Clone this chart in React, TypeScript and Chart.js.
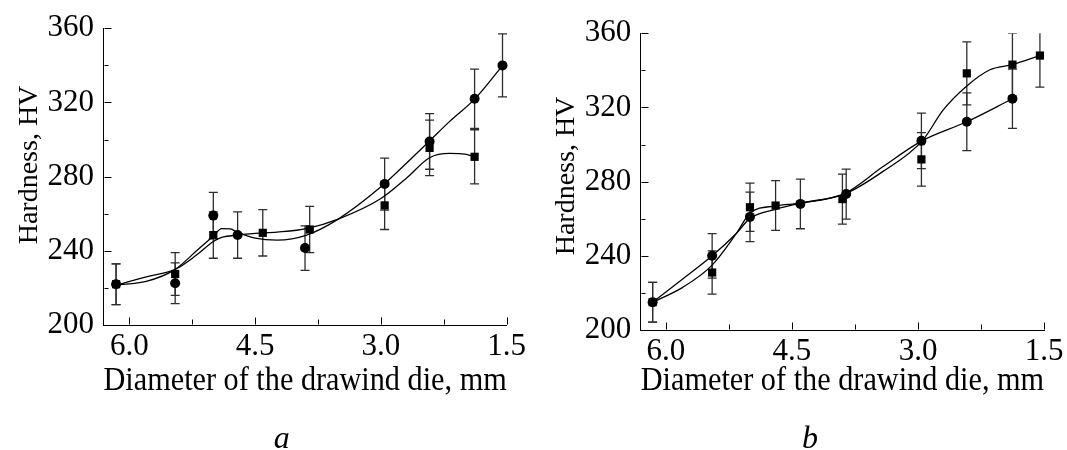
import React, { useEffect, useRef } from "react";
import { Chart, registerables } from "chart.js";
Chart.register(...registerables);

// ---------- Panel a data ----------
const aCircleX = [6.16, 5.455, 5.0, 4.71, 3.906, 2.956, 2.42, 1.883, 1.55];
const aCircleY = [222, 222.5, 259, 248.5, 241.5, 276, 299, 322, 340];
const aCircleErr = [11, 11, 12.5, 12.5, 12, 14, 15, 16, 17];
const aSquareX = [6.16, 5.455, 5.0, 4.41, 3.85, 2.956, 2.42, 1.883];
const aSquareY = [222, 227.5, 248.5, 249.7, 251.5, 264.5, 295.5, 290.7];
const aSquareErr = [11, 11.5, 12.5, 12.5, 12.5, 13, 15, 14.6];
// fitted curves
const aFitCircleX = [6.16, 5.8, 5.455, 5.2, 5.0, 4.9, 4.8, 4.71, 4.5, 4.24, 3.886, 3.51, 3.0, 2.7, 2.42, 2.18, 1.883, 1.55];
const aFitCircleY = [221.5, 223.5, 230, 240, 248, 252, 251.8, 250, 246.9, 245.8, 248.5, 257.1, 274.5, 287.1, 299.3, 309.8, 321.8, 339.9];
const aFitSquareX = [6.16, 5.8, 5.455, 5.2, 5.0, 4.9, 4.71, 4.5, 4.24, 3.886, 3.51, 3.0, 2.7, 2.42, 2.18, 2.0, 1.883];
const aFitSquareY = [221.5, 226, 230, 237.7, 245, 247.2, 248.5, 249.4, 250.1, 252, 257.1, 268.2, 279, 290.2, 292.5, 292.1, 290.7];

// ---------- Panel b data ----------
const bCircleX = [6.158, 5.45, 5.0, 4.4, 3.855, 2.96, 2.42, 1.877];
const bCircleY = [215, 240, 261, 268, 273.3, 302, 312.3, 324.7];
const bCircleErr = [10.7, 12, 13.3, 13.4, 13.5, 15, 15.6, 16];
const bSquareX = [6.158, 5.45, 5.0, 4.695, 3.9, 2.96, 2.42, 1.877, 1.55];
const bSquareY = [215, 231, 266.2, 267.1, 270.6, 292, 338.4, 343.1, 348];
const bSquareErr = [10.7, 11.7, 13, 13.4, 13.5, 14.4, 17, 17, 17];
const bFitCircleX = [6.158, 5.8, 5.45, 5.16, 5.0, 4.695, 4.4, 3.87, 3.42, 2.95, 2.42, 1.877];
const bFitCircleY = [215, 227.5, 240, 252.2, 260.2, 265.1, 268.4, 273.7, 288, 302.1, 312.3, 324.7];
const bFitSquareX = [6.158, 5.8, 5.45, 5.16, 5.0, 4.695, 4.4, 3.87, 3.42, 2.95, 2.7, 2.43, 2.15, 1.877, 1.55];
const bFitSquareY = [215, 223, 235, 252.2, 263, 266.9, 268.4, 273.4, 285.4, 302, 318.7, 331.2, 340.2, 343.1, 348];

// ---------- Axes ----------
const xTickValues = [6.0, 4.5, 3.0, 1.5];
const xTickLabels = ["6.0", "4.5", "3.0", "1.5"];
const xMinorValues = [5.25, 3.75, 2.25];
const yTickValues = [200, 240, 280, 320, 360];
const yTickLabels = ["200", "240", "280", "320", "360"];
const yMinorValues = [220, 260, 300, 340];
const xAxisTitle = "Diameter of the drawind die, mm";
const yAxisTitle = "Hardness, HV";

const FONT = "'Liberation Serif', 'Times New Roman', serif";

type PanelCfg = {
  circleX: number[]; circleY: number[]; circleErr: number[];
  squareX: number[]; squareY: number[]; squareErr: number[];
  fitCX: number[]; fitCY: number[]; fitSX: number[]; fitSY: number[];
  xMax: number;
  width: number;
  area: { left: number; top: number; right: number; bottom: number };
  yTitlePos: { x: number; y: number };
  label: string;
  labelX: number;
};

const H = 450;

const panels: PanelCfg[] = [
  {
    circleX: aCircleX, circleY: aCircleY, circleErr: aCircleErr,
    squareX: aSquareX, squareY: aSquareY, squareErr: aSquareErr,
    fitCX: aFitCircleX, fitCY: aFitCircleY, fitSX: aFitSquareX, fitSY: aFitSquareY,
    xMax: 6.31,
    width: 533,
    area: { left: 103.5, top: 28.3, right: 506.7, bottom: 325 },
    yTitlePos: { x: 37, y: 165 },
    label: "a",
    labelX: 281.7,
  },
  {
    circleX: bCircleX, circleY: bCircleY, circleErr: bCircleErr,
    squareX: bSquareX, squareY: bSquareY, squareErr: bSquareErr,
    fitCX: bFitCircleX, fitCY: bFitCircleY, fitSX: bFitSquareX, fitSY: bFitSquareY,
    xMax: 6.3,
    width: 534,
    area: { left: 107.7, top: 33.3, right: 512, bottom: 330 },
    yTitlePos: { x: 41, y: 176 },
    label: "b",
    labelX: 277,
  },
];

const zip = (xs: number[], ys: number[]) => xs.map((x, i) => ({ x, y: ys[i] }));

function PanelChart({ cfg }: { cfg: PanelCfg }) {
  const ref = useRef<HTMLCanvasElement | null>(null);
  useEffect(() => {
    if (!ref.current) return;
    const errorBars = {
      id: "errorBars",
      beforeDatasetsDraw(chart: any) {
        const { ctx, chartArea, scales } = chart;
        const x = scales.x, y = scales.y;
        ctx.save();
        ctx.beginPath();
        ctx.rect(chartArea.left, chartArea.top, chartArea.right - chartArea.left + 12, chartArea.bottom - chartArea.top);
        ctx.clip();
        ctx.strokeStyle = "#2e2e2e";
        ctx.lineWidth = 1.3;
        const draw = (xs: number[], ys: number[], es: number[]) => {
          xs.forEach((xv, i) => {
            const px = x.getPixelForValue(xv);
            const pt = y.getPixelForValue(ys[i] + es[i]);
            const pb = y.getPixelForValue(ys[i] - es[i]);
            ctx.beginPath();
            ctx.moveTo(px, pt); ctx.lineTo(px, pb);
            ctx.moveTo(px - 4.5, pt); ctx.lineTo(px + 4.5, pt);
            ctx.moveTo(px - 4.5, pb); ctx.lineTo(px + 4.5, pb);
            ctx.stroke();
          });
        };
        draw(cfg.squareX, cfg.squareY, cfg.squareErr);
        draw(cfg.circleX, cfg.circleY, cfg.circleErr);
        ctx.restore();
      },
    };
    const decorations = {
      id: "decorations",
      afterDraw(chart: any) {
        const { ctx, chartArea, scales } = chart;
        const x = scales.x, y = scales.y;
        ctx.save();
        ctx.strokeStyle = "#000";
        ctx.lineWidth = 1;
        ctx.beginPath();
        const bx = Math.round(chartArea.left) + 0.5;
        const by = Math.round(chartArea.bottom) - 0.5;
        yTickValues.forEach((v) => { const p = Math.round(y.getPixelForValue(v)) + 0.5; ctx.moveTo(bx, p); ctx.lineTo(bx + 7, p); });
        yMinorValues.forEach((v) => { const p = Math.round(y.getPixelForValue(v)) + 0.5; ctx.moveTo(bx, p); ctx.lineTo(bx + 4, p); });
        xTickValues.forEach((v) => { const p = Math.round(x.getPixelForValue(v)) + 0.5; ctx.moveTo(p, by); ctx.lineTo(p, by - 7); });
        xMinorValues.forEach((v) => { const p = Math.round(x.getPixelForValue(v)) + 0.5; ctx.moveTo(p, by); ctx.lineTo(p, by - 5); });
        ctx.stroke();
        // y title
        ctx.fillStyle = "#000";
        ctx.font = `28px ${FONT}`;
        ctx.translate(cfg.yTitlePos.x, cfg.yTitlePos.y);
        ctx.rotate(-Math.PI / 2);
        ctx.textAlign = "center";
        ctx.textBaseline = "alphabetic";
        ctx.fillText(yAxisTitle, 0, 0);
        ctx.restore();
        // panel label
        ctx.save();
        ctx.fillStyle = "#000";
        ctx.font = `italic 32px ${FONT}`;
        ctx.textAlign = "center";
        ctx.textBaseline = "alphabetic";
        ctx.fillText(cfg.label, cfg.labelX, 448);
        ctx.restore();
      },
    };
    const a = cfg.area;
    const chart = new Chart(ref.current, {
      type: "scatter",
      data: {
        datasets: [
          {
            label: "circles",
            data: zip(cfg.circleX, cfg.circleY),
            pointStyle: "circle",
            pointRadius: 5,
            backgroundColor: "#000",
            borderColor: "#000",
            borderWidth: 0,
            showLine: false,
            clip: false,
          },
          {
            label: "squares",
            data: zip(cfg.squareX, cfg.squareY),
            pointStyle: "rect",
            pointRadius: 5.8,
            backgroundColor: "#000",
            borderColor: "#000",
            borderWidth: 0,
            showLine: false,
            clip: false,
          },
          {
            label: "fit circles",
            data: zip(cfg.fitCX, cfg.fitCY),
            showLine: true,
            pointRadius: 0,
            borderColor: "#000",
            borderWidth: 1.3,
            cubicInterpolationMode: "monotone",
            fill: false,
            clip: false,
          },
          {
            label: "fit squares",
            data: zip(cfg.fitSX, cfg.fitSY),
            showLine: true,
            pointRadius: 0,
            borderColor: "#000",
            borderWidth: 1.3,
            cubicInterpolationMode: "monotone",
            fill: false,
            clip: false,
          },
        ],
      } as any,
      options: {
        animation: false,
        responsive: false,
        maintainAspectRatio: false,
        events: [],
        layout: { padding: { left: 0, top: a.top, right: cfg.width - a.right, bottom: 0 } },
        plugins: { legend: { display: false }, tooltip: { enabled: false } },
        scales: {
          x: {
            type: "linear",
            reverse: true,
            min: 1.5,
            max: cfg.xMax,
            afterBuildTicks: (s: any) => { s.ticks = xTickValues.map((v) => ({ value: v })); },
            afterFit: (s: any) => { s.height = H - a.bottom; },
            ticks: {
              autoSkip: false,
              maxRotation: 0,
              padding: 3.5,
              color: "#000",
              font: { family: FONT, size: 31 },
              callback: (_v: any, i: number) => xTickLabels[i],
            },
            grid: { display: false, drawTicks: false },
            border: { display: true, color: "#000", width: 1 },
            title: {
              display: true,
              text: xAxisTitle,
              color: "#000",
              font: { family: FONT, size: 33.5 },
              padding: { top: 0, bottom: 48.5 },
            },
          },
          y: {
            type: "linear",
            min: 200,
            max: 360,
            afterBuildTicks: (s: any) => { s.ticks = yTickValues.map((v) => ({ value: v })); },
            afterFit: (s: any) => { s.width = a.left; },
            ticks: {
              autoSkip: false,
              padding: 9.5,
              color: "#000",
              font: { family: FONT, size: 31 },
              callback: (_v: any, i: number) => yTickLabels[i],
            },
            grid: { display: false, drawTicks: false },
            border: { display: true, color: "#000", width: 1 },
          },
        },
      } as any,
      plugins: [errorBars, decorations],
    });
    return () => chart.destroy();
  }, [cfg]);
  return <canvas ref={ref} width={cfg.width} height={H} style={{ display: "block", width: cfg.width, height: H }} />;
}

export default function App() {
  return (
    <div style={{ position: "absolute", left: 0, top: 0, width: 1067, height: H, background: "#fff", display: "flex" }}>
      {panels.map((p) => (
        <PanelChart key={p.label} cfg={p} />
      ))}
    </div>
  );
}
